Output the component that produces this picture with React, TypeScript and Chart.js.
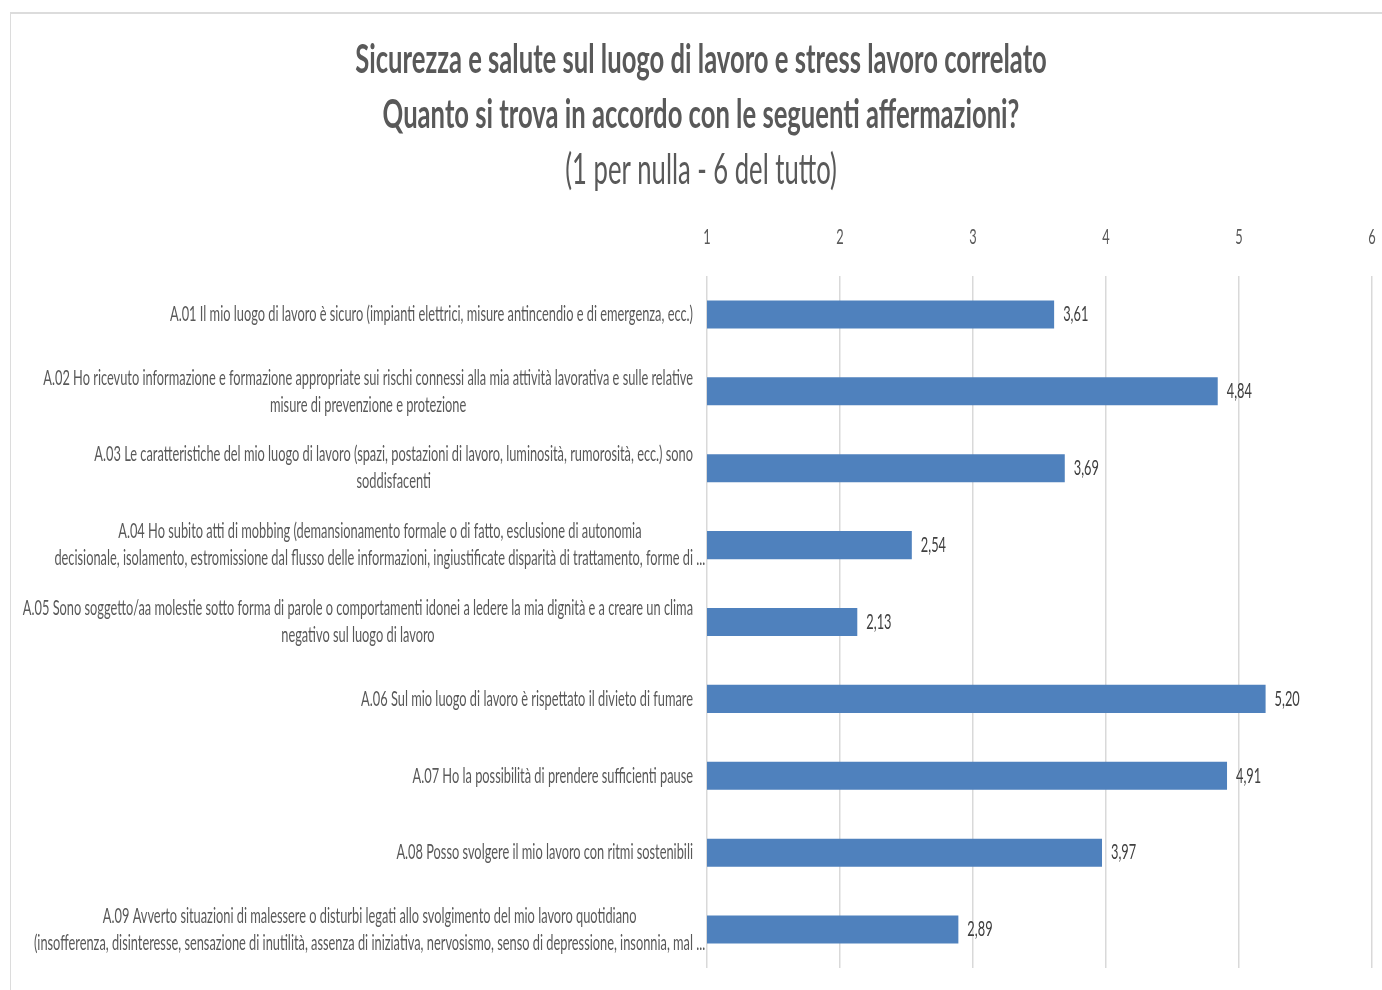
import React, { useEffect, useRef } from "react";
import { Chart, registerables } from "chart.js";

Chart.register(...registerables);

const titleLines: string[] = [
  "Sicurezza e salute sul luogo di lavoro e stress lavoro correlato",
  "Quanto si trova in accordo con le seguenti affermazioni?",
];
const subtitleText = "(1 per nulla - 6 del tutto)";

const categories: string[][] = [
  ["A.01 Il mio luogo di lavoro è sicuro (impianti elettrici, misure antincendio e di emergenza, ecc.)"],
  [
    "A.02 Ho ricevuto informazione e formazione appropriate sui rischi connessi alla mia attività lavorativa e sulle relative",
    "misure di prevenzione e protezione",
  ],
  [
    "A.03 Le caratteristiche del mio luogo di lavoro (spazi, postazioni di lavoro, luminosità, rumorosità, ecc.) sono",
    "soddisfacenti",
  ],
  [
    "A.04 Ho subito atti di mobbing (demansionamento formale o di fatto, esclusione di autonomia",
    "decisionale, isolamento, estromissione dal flusso delle informazioni, ingiustificate disparità di trattamento, forme di ...",
  ],
  [
    "A.05 Sono soggetto/aa molestie sotto forma di parole o comportamenti idonei a ledere la mia dignità e a creare un clima",
    "negativo sul luogo di lavoro",
  ],
  ["A.06 Sul mio luogo di lavoro è rispettato il divieto di fumare"],
  ["A.07 Ho la possibilità di prendere sufficienti pause"],
  ["A.08 Posso svolgere il mio lavoro con ritmi sostenibili"],
  [
    "A.09 Avverto situazioni di malessere o disturbi legati allo svolgimento del mio lavoro quotidiano",
    "(insofferenza, disinteresse, sensazione di inutilità, assenza di iniziativa, nervosismo, senso di depressione, insonnia, mal ...",
  ],
];

const values: number[] = [3.61, 4.84, 3.69, 2.54, 2.13, 5.2, 4.91, 3.97, 2.89];

const xTickValues: number[] = [1, 2, 3, 4, 5, 6];

const FONT = "Lato, 'Open Sans', sans-serif";
const SX = 0.61;
const TITLE_SX = 0.625;
const TEXT_COLOR = "#595959";

function drawCondensed(
  ctx: CanvasRenderingContext2D,
  text: string,
  x: number,
  y: number,
  align: CanvasTextAlign,
  font: string,
  color: string,
  sx: number = SX
) {
  ctx.save();
  ctx.font = font;
  ctx.fillStyle = color;
  ctx.textBaseline = "middle";
  ctx.textAlign = align;
  ctx.translate(x, y);
  ctx.scale(sx, 1);
  ctx.fillText(text, 0, 0);
  ctx.restore();
}

function measureCondensed(ctx: CanvasRenderingContext2D, text: string, font: string) {
  ctx.save();
  ctx.font = font;
  const w = ctx.measureText(text).width * SX;
  ctx.restore();
  return w;
}

const textPlugin = {
  id: "condensedText",
  afterDraw(chart: any) {
    const ctx: CanvasRenderingContext2D = chart.ctx;
    const area = chart.chartArea;
    const xScale = chart.scales.x;
    const yScale = chart.scales.y;
    const cx = 701;

    // titles
    const titleFont = `bold 41px ${FONT}`;
    drawCondensed(ctx, titleLines[0], cx, 60, "center", titleFont, TEXT_COLOR, TITLE_SX);
    drawCondensed(ctx, titleLines[1], cx, 115, "center", titleFont, TEXT_COLOR, TITLE_SX);
    drawCondensed(ctx, subtitleText, cx, 170, "center", `42px ${FONT}`, TEXT_COLOR, SX);

    // x tick labels
    const tickFont = `21px ${FONT}`;
    xTickValues.forEach((v) => {
      const px = xScale.getPixelForValue(v);
      drawCondensed(ctx, String(v), px, area.top - 39, "center", tickFont, TEXT_COLOR);
    });

    // category labels
    const labelFont = `21px ${FONT}`;
    const lineH = 27;
    const right = area.left - 14;
    categories.forEach((lines, i) => {
      const py = yScale.getPixelForValue(i);
      let bestFull = 0;
      let bestEff = 0;
      lines.forEach((l) => {
        const fw = measureCondensed(ctx, l, labelFont);
        if (fw > bestFull) {
          bestFull = fw;
          bestEff = measureCondensed(ctx, l.replace(/\s*\.\.\.$/, ""), labelFont);
        }
      });
      const center = right - bestEff + bestFull / 2;
      const startY = py - ((lines.length - 1) * lineH) / 2;
      lines.forEach((l, j) => {
        drawCondensed(ctx, l, center, startY + j * lineH, "center", labelFont, TEXT_COLOR);
      });
    });

    // data labels
    const meta = chart.getDatasetMeta(0);
    const valFont = `21px ${FONT}`;
    meta.data.forEach((el: any, i: number) => {
      const txt = values[i].toFixed(2).replace(".", ",");
      drawCondensed(ctx, txt, el.x + 9, el.y, "left", valFont, "#404040");
    });
  },
};

export default function App() {
  const ref = useRef<HTMLCanvasElement | null>(null);

  useEffect(() => {
    document.body.style.margin = "0";
    document.documentElement.style.overflow = "hidden";
    if (!ref.current) return;
    const chart = new Chart(ref.current, {
      type: "bar",
      data: {
        labels: categories.map((c) => c.join(" ")),
        datasets: [
          {
            data: values,
            backgroundColor: "#4F81BD",
            borderWidth: 0,
            categoryPercentage: 1,
            barPercentage: 0.365,
          },
        ],
      },
      options: {
        indexAxis: "y",
        responsive: false,
        animation: false,
        devicePixelRatio: 1,
        layout: { padding: { left: 707, right: 10, top: 276, bottom: 22 } },
        plugins: {
          legend: { display: false },
          title: { display: false },
          tooltip: { enabled: false },
        },
        scales: {
          x: {
            type: "linear",
            position: "top",
            min: 1,
            max: 6,
            ticks: { display: false, stepSize: 1 },
            grid: { color: "#d9d9d9", drawTicks: false, lineWidth: 1.5 },
            border: { display: false },
          },
          y: {
            type: "category",
            ticks: { display: false },
            grid: { display: false, drawTicks: false },
            border: { display: false },
          },
        },
      },
      plugins: [textPlugin],
    });
    return () => chart.destroy();
  }, []);

  return (
    <div style={{ position: "relative", width: 1382, height: 990 }}>
      <div
        style={{
          position: "absolute",
          left: 10,
          top: 12,
          right: 0,
          bottom: 0,
          borderTop: "2px solid #dcdcdc",
          borderLeft: "1px solid #dcdcdc",
        }}
      />
      <canvas
        ref={ref}
        width={1382}
        height={990}
        style={{ position: "absolute", left: 0, top: 0, width: 1382, height: 990 }}
      />
    </div>
  );
}
